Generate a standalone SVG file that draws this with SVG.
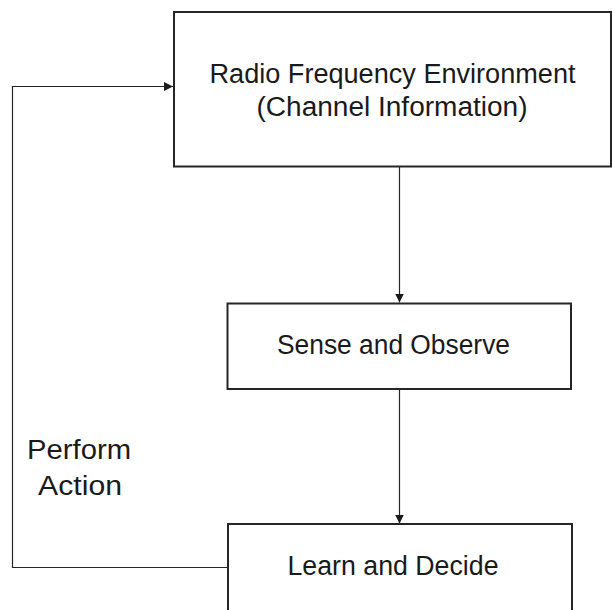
<svg xmlns="http://www.w3.org/2000/svg" width="612" height="610" viewBox="0 0 612 610">
  <defs>
    <marker id="arrow" viewBox="0 0 10 10" refX="10" refY="5" markerWidth="9" markerHeight="9" markerUnits="userSpaceOnUse" orient="auto">
      <path d="M0,0 L10,5 L0,10 Z" fill="#1a1a1a"/>
    </marker>
  </defs>
  <style>
    .box { fill: #ffffff; stroke: #262626; stroke-width: 2; }
    .label { font-family: "Liberation Sans", Arial, sans-serif; font-size: 27px; fill: #1a1a1a; text-anchor: middle; }
    .edge { fill: none; stroke: #262626; stroke-width: 1.2; }
  </style>
  <rect width="612" height="610" fill="#ffffff"/>

  <!-- flow connectors -->
  <g id="connectors">
    <line class="edge" x1="399.5" y1="166.5" x2="399.5" y2="302.5" marker-end="url(#arrow)"/>
    <line class="edge" x1="399.5" y1="389.5" x2="399.5" y2="523.5" marker-end="url(#arrow)"/>
    <polyline class="edge" points="227,567.5 12.5,567.5 12.5,86.5 173,86.5" marker-end="url(#arrow)"/>
  </g>

  <g id="rf-environment">
    <rect class="box" x="174" y="12" width="437" height="154.5"/>
    <text class="label" x="392.5" y="83" textLength="366" lengthAdjust="spacingAndGlyphs">Radio Frequency Environment</text>
    <text class="label" x="392" y="116" textLength="271" lengthAdjust="spacingAndGlyphs">(Channel Information)</text>
  </g>

  <g id="sense-observe">
    <rect class="box" x="227.5" y="303.5" width="343.5" height="85.5"/>
    <text class="label" x="393.5" y="354" textLength="233" lengthAdjust="spacingAndGlyphs">Sense and Observe</text>
  </g>

  <g id="learn-decide">
    <rect class="box" x="228" y="524" width="344" height="100"/>
    <text class="label" x="393" y="575" textLength="211" lengthAdjust="spacingAndGlyphs">Learn and Decide</text>
  </g>

  <g id="perform-action">
    <text class="label" x="79" y="459" textLength="104" lengthAdjust="spacingAndGlyphs">Perform</text>
    <text class="label" x="80" y="495" textLength="84" lengthAdjust="spacingAndGlyphs">Action</text>
  </g>
</svg>
